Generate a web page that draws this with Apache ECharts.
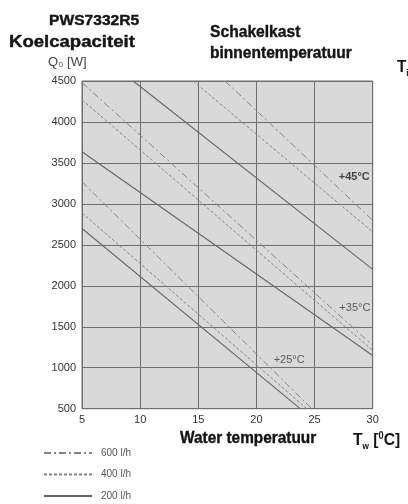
<!DOCTYPE html>
<html><head><meta charset="utf-8">
<script src="https://cdn.jsdelivr.net/npm/echarts@6/dist/echarts.min.js"></script>
<style>html,body{margin:0;padding:0;background:#fff}#c{width:408px;height:504px}</style>
</head><body><div id="c"></div>
<script>
// ---- data ----
const flowNames = ['600 l/h', '400 l/h', '200 l/h'];
const xTicks = [5, 10, 15, 20, 25, 30];
const yTicks = [500, 1000, 1500, 2000, 2500, 3000, 3500, 4000, 4500];
// Ti = +45°C
const t45_600 = [[17.3, 4500], [30, 2800]];
const t45_400 = [[14.55, 4500], [30, 2658]];
const t45_200 = [[9.4, 4500], [30, 2200]];
// Ti = +35°C
const t35_600 = [[5, 4480], [30, 1273]];
const t35_400 = [[5, 4270], [30, 1211]];
const t35_200 = [[5, 3636], [30, 1150]];
// Ti = +25°C
const t25_600 = [[5, 3270], [24.76, 500]];
const t25_400 = [[5, 2890], [24.33, 500]];
const t25_200 = [[5, 2700], [23.76, 500]];
const tiLabels = [[29.75, 3330, '+45°C'], [29.8, 1725, '+35°C'], [24.15, 1098, '+25°C']];

// ---- styles ----
const styles = {
  '600 l/h': { color: '#858585', width: 1, type: [7, 3, 2, 3] },
  '400 l/h': { color: '#858585', width: 1, type: [3, 2] },
  '200 l/h': { color: '#666666', width: 1.1, type: 'solid' }
};
function mk(name, data) {
  return { name: name, type: 'line', data: data, symbol: 'none', silent: true,
    lineStyle: styles[name], itemStyle: { color: styles[name].color }, clip: true };
}
const labelData = tiLabels.map((d, i) => i === 0
  ? { value: d, label: { color: '#1a1a1a', fontWeight: 'bold' } }
  : { value: d });
const series = [
  mk('600 l/h', t45_600), mk('400 l/h', t45_400), mk('200 l/h', t45_200),
  mk('600 l/h', t35_600), mk('400 l/h', t35_400), mk('200 l/h', t35_200),
  mk('600 l/h', t25_600), mk('400 l/h', t25_400), mk('200 l/h', t25_200),
  { type: 'scatter', data: labelData, symbolSize: 0, silent: true,
    label: { show: true, position: 'left', distance: 0, formatter: p => p.value[2],
      fontFamily: 'Liberation Sans', fontSize: 11, color: '#3a3a3a' } }
];

const bold = "'Liberation Sans',Arial,sans-serif";
function txt(x, y, text, size, sx) {
  return { type: 'text', x: x, y: y, scaleX: sx, silent: true,
    style: { text: text, fontFamily: bold, fontWeight: 'bold', fontSize: size, fill: '#141414', verticalAlign: 'top',
      stroke: '#141414', lineWidth: 0.4 } };
}
const chart = echarts.init(document.getElementById('c'));
chart.setOption({
  animation: false,
  backgroundColor: '#fff',
  grid: { left: 82, right: 35.3, top: 81, bottom: 95.3, show: true,
    backgroundColor: '#d9d9d9', borderColor: '#6a6a6a', borderWidth: 1 },
  xAxis: { type: 'value', min: 5, max: 30, interval: 5,
    axisLine: { show: false }, axisTick: { show: false },
    splitLine: { lineStyle: { color: '#6e6e6e', width: 1 } },
    axisLabel: { color: '#333', fontFamily: 'Liberation Sans', fontSize: 11, margin: 6,
      formatter: v => xTicks.includes(v) ? String(v) : '' } },
  yAxis: { type: 'value', min: 500, max: 4500, interval: 500,
    axisLine: { show: false }, axisTick: { show: false },
    splitLine: { lineStyle: { color: '#6e6e6e', width: 1 } },
    axisLabel: { color: '#333', fontFamily: 'Liberation Sans', fontSize: 11, margin: 6,
      formatter: v => yTicks.includes(v) ? String(v) : '' } },
  legend: { data: flowNames, orient: 'vertical', left: 43, top: 447, padding: 0,
    itemWidth: 48, itemHeight: 12, itemGap: 9.5,
    itemStyle: { opacity: 0 },
    textStyle: { fontFamily: 'Liberation Sans', fontSize: 10, lineHeight: 12, color: '#555', padding: [0, 0, 0, 4] } },
  series: series,
  graphic: [
    txt(49, 13, 'PWS7332R5', 15, 1.04),
    txt(9, 35, 'Koelcapaciteit', 16, 1.16),
    { type: 'text', x: 48, y: 56, silent: true,
      style: { text: 'Q₀ [W]', fontFamily: bold, fontSize: 13, fill: '#444', verticalAlign: 'top' } },
    txt(210, 24, 'Schakelkast', 17, 0.92),
    txt(210, 45, 'binnentemperatuur', 17, 0.915),
    { type: 'text', x: 397, y: 57, scaleX: 0.9, silent: true, style: { text: '{a|T}{s|i}', fill: '#141414', verticalAlign: 'top',
      rich: { a: { fontFamily: bold, fontWeight: 'bold', fontSize: 17, fill: '#141414' },
              s: { fontFamily: bold, fontWeight: 'bold', fontSize: 9, fill: '#141414', padding: [12, 0, 0, 0] } } } },
    txt(180, 430, 'Water temperatuur', 17, 0.905),
    { type: 'text', x: 353, y: 430, scaleX: 0.92, silent: true, style: { text: '{a|T}{s|w}{a| [}{u|0}{a|C]}', fill: '#141414', verticalAlign: 'top',
      rich: { a: { fontFamily: bold, fontWeight: 'bold', fontSize: 17, fill: '#141414' },
              s: { fontFamily: bold, fontWeight: 'bold', fontSize: 9, fill: '#141414', padding: [12, 0, 0, 0] },
              u: { fontFamily: bold, fontWeight: 'bold', fontSize: 10, fill: '#141414', padding: [0, 0, 8, 0] } } } }
  ]
});
</script></body></html>
